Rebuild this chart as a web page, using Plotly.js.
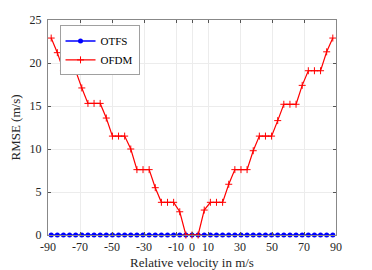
<!DOCTYPE html>
<html>
<head>
<meta charset="utf-8">
<script src="https://cdn.plot.ly/plotly-3.0.1.min.js"></script>
<style>
  body { margin: 0; background: #fff; }
  #chart { width: 372px; height: 270px; }
</style>
</head>
<body>
<div id="chart"></div>
<script>
// relative velocity (m/s), 47 points
let velocity = [
  -88, -84.17, -80.35, -76.52, -72.7, -68.87, -65.04, -61.22, -57.39, -53.57,
  -49.74, -45.91, -42.09, -38.26, -34.43, -30.61, -26.78, -22.96, -19.13, -15.3,
  -11.48, -7.65, -3.83, 0, 3.83, 7.65, 11.48, 15.3, 19.13, 22.96,
  26.78, 30.61, 34.43, 38.26, 42.09, 45.91, 49.74, 53.57, 57.39, 61.22,
  65.04, 68.87, 72.7, 76.52, 80.35, 84.17, 88
];

let rmse_OTFS = [
  0, 0, 0, 0, 0, 0, 0, 0, 0, 0,
  0, 0, 0, 0, 0, 0, 0, 0, 0, 0,
  0, 0, 0, 0, 0, 0, 0, 0, 0, 0,
  0, 0, 0, 0, 0, 0, 0, 0, 0, 0,
  0, 0, 0, 0, 0, 0, 0
];

let rmse_OFDM = [
  22.9, 21.2, 19.1, 19.1, 19.1, 17.1, 15.3, 15.3, 15.3, 13.6,
  11.5, 11.5, 11.5, 10.0, 7.6, 7.6, 7.6, 5.5, 3.8, 3.8,
  3.8, 2.7, 0, 0, 0, 2.9, 3.8, 3.8, 3.8, 5.9,
  7.6, 7.6, 7.6, 9.8, 11.5, 11.5, 11.5, 13.3, 15.2, 15.2,
  15.2, 17.4, 19.1, 19.1, 19.1, 21.3, 22.9
];

let xTicks = [-90, -70, -50, -30, -10, 0, 10, 30, 50, 70, 90];
let yTicks = [0, 5, 10, 15, 20, 25];

let trace_OTFS = {
  type: "scatter",
  x: velocity,
  y: rmse_OTFS,
  name: "OTFS",
  mode: "lines+markers",
  cliponaxis: false,
  line: { color: "#0000ff", width: 1.5 },
  marker: { color: "#0000ff", size: 5, symbol: "circle" },
};

let trace_OFDM = {
  type: "scatter",
  x: velocity,
  y: rmse_OFDM,
  name: "OFDM",
  mode: "lines+markers",
  cliponaxis: false,
  line: { color: "#ff0000", width: 1.2 },
  marker: {
    symbol: "cross-thin-open",
    size: 5,
    color: "#ff0000",
    line: { color: "#ff0000", width: 1 },
  },
};

let serif = "Liberation Serif";
let textColor = "#262626";

let layout = {
  width: 372,
  height: 270,
  margin: { l: 48, r: 36, t: 20, b: 35 },
  paper_bgcolor: "#ffffff",
  plot_bgcolor: "#ffffff",
  font: { family: serif, size: 12, color: textColor },
  showlegend: true,
  legend: {
    x: 0.04,
    y: 0.975,
    xanchor: "left",
    yanchor: "top",
    bgcolor: "#ffffff",
    bordercolor: "#a0a0a0",
    borderwidth: 1,
    font: { family: serif, size: 11, color: "#000000" },
    tracegroupgap: 0,
    itemwidth: 30,
  },
  xaxis: {
    range: [-90, 90],
    tickvals: xTicks,
    ticktext: xTicks.map(String),
    ticks: "inside",
    ticklen: 3,
    tickcolor: "#555",
    showline: true,
    linecolor: "#888",
    linewidth: 1,
    mirror: "ticks",
    showgrid: true,
    gridcolor: "#ececec",
    zeroline: false,
    ticklabelstandoff: 1,
    tickfont: { family: serif, size: 12, color: textColor },
    title: { text: "Relative velocity in m/s", font: { family: serif, size: 13, color: textColor }, standoff: 4 },
  },
  yaxis: {
    range: [0, 25],
    tickvals: yTicks,
    ticks: "inside",
    ticklen: 3,
    tickcolor: "#555",
    showline: true,
    linecolor: "#888",
    linewidth: 1,
    mirror: "ticks",
    showgrid: true,
    gridcolor: "#ececec",
    zeroline: false,
    ticklabelstandoff: 3,
    tickfont: { family: serif, size: 12, color: textColor },
    title: { text: "RMSE (m/s)", font: { family: serif, size: 13, color: textColor }, standoff: 6 },
  },
};

Plotly.newPlot("chart", [trace_OTFS, trace_OFDM], layout, { displayModeBar: false, staticPlot: true });
</script>
</body>
</html>
